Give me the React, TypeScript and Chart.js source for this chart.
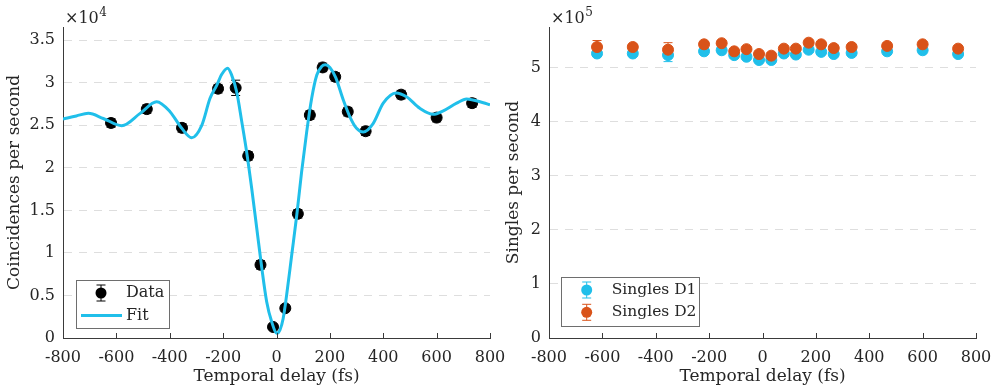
import React, { useEffect, useRef } from "react";
import { Chart, registerables } from "chart.js";
Chart.register(...registerables);

// ---- data ----
const delays = [-620, -486, -354, -219, -153, -106, -60, -13, 33, 80, 125, 173, 220, 267, 334, 467, 600, 733];
const coincidences = [25270, 26900, 24700, 29300, 29400, 21400, 8600, 1300, 3500, 14600, 26200, 31800, 30700, 26600, 24300, 28600, 25900, 27600];
const coincErr = [500, 500, 500, 500, 900, 500, 500, 300, 400, 500, 500, 500, 500, 500, 500, 500, 500, 500];

const fitDelay = [-800, -750, -705, -649, -580, -511, -449, -399, -355, -318, -280, -249, -224, -205, -183, -168, -149, -130, -112, -93, -74, -55, -37, -18, 2, 13, 25, 38, 57, 76, 94, 113, 132, 151, 169, 183, 200, 222, 250, 275, 300, 325, 362, 400, 448, 487, 537, 587, 625, 675, 712, 775, 800];
const fitCoinc = [25730, 26100, 26400, 25800, 24950, 26400, 27770, 26600, 24640, 23540, 25000, 28170, 29700, 31000, 31700, 30900, 28900, 25400, 21900, 17600, 12900, 8200, 4300, 1900, 550, 940, 2300, 5050, 9750, 14450, 19500, 24200, 28200, 30900, 31900, 32100, 31800, 30600, 28000, 26000, 24640, 24200, 25200, 27600, 28800, 28350, 27000, 26300, 26700, 27600, 28100, 27650, 27400];

const singlesD1 = [526000, 526000, 523000, 530000, 532000, 523000, 520000, 514000, 514000, 526000, 524000, 533000, 529000, 525000, 527000, 530000, 532000, 525000];
const singlesD2 = [538000, 538000, 533000, 543000, 545000, 530000, 534000, 525000, 522000, 535000, 535000, 546000, 543000, 536000, 538000, 540000, 543000, 535000];
const errD1 = [5000, 5000, 12000, 5000, 5000, 5000, 5000, 5000, 5000, 5000, 5000, 5000, 5000, 5000, 5000, 5000, 5000, 5000];
const errD2 = [12000, 5000, 13000, 5000, 5000, 5000, 5000, 5000, 5000, 5000, 5000, 5000, 5000, 5000, 5000, 5000, 5000, 5000];

const xTicks = [-800, -600, -400, -200, 0, 200, 400, 600, 800];
const leftYTicks = [0, 5000, 10000, 15000, 20000, 25000, 30000, 35000];
const rightYTicks = [0, 100000, 200000, 300000, 400000, 500000];

// ---- styles ----
const FONT = "'DejaVu Serif', serif";
const CYAN = "#20bfea";
const ORANGE = "#d95319";
const AXIS = "#3a3a3a";
const TEXT = "#262626";
const GRID = "#dedede";

function fmt(v: number) {
  return String(+v.toFixed(2));
}

function xScale() {
  return {
    type: "linear",
    min: -800,
    max: 800,
    afterBuildTicks: (s: any) => {
      s.ticks = xTicks.map((v) => ({ value: v }));
    },
    afterFit: (s: any) => {
      s.height = 50;
      s.paddingLeft = 0;
      s.paddingRight = 0;
    },
    grid: { display: false, drawTicks: false },
    border: { display: true, color: AXIS, width: 1 },
    ticks: {
      font: { family: FONT, size: 16 },
      color: TEXT,
      padding: 10,
      maxRotation: 0,
      autoSkip: false,
      callback: (v: any) => String(v),
    },
  };
}

function yScale(max: number, ticks: number[], div: number, width: number) {
  return {
    type: "linear",
    min: 0,
    max,
    afterBuildTicks: (s: any) => {
      s.ticks = ticks.map((v) => ({ value: v }));
    },
    afterFit: (s: any) => {
      s.width = width;
      s.paddingTop = 0;
      s.paddingBottom = 0;
    },
    grid: {
      drawTicks: false,
      color: (ctx: any) => (ctx.tick && ctx.tick.value === 0 ? "rgba(0,0,0,0)" : GRID),
      lineWidth: 1,
    },
    border: { display: true, color: AXIS, width: 1, dash: [8, 7] },
    ticks: {
      font: { family: FONT, size: 16 },
      color: TEXT,
      padding: 8,
      autoSkip: false,
      callback: (v: any) => fmt(v / div),
    },
  };
}

const errorBarPlugin = {
  id: "errbars",
  beforeDatasetsDraw(chart: any) {
    const ctx = chart.ctx;
    const ys = chart.scales.y;
    chart.data.datasets.forEach((ds: any, i: number) => {
      if (!ds.errors) return;
      const meta = chart.getDatasetMeta(i);
      ctx.save();
      ctx.strokeStyle = ds.borderColor;
      ctx.lineWidth = 1;
      meta.data.forEach((pt: any, j: number) => {
        const v = ds.data[j].y;
        const e = ds.errors[j];
        const t = ys.getPixelForValue(v + e);
        const b = ys.getPixelForValue(v - e);
        const x = pt.x;
        ctx.beginPath();
        ctx.moveTo(x, t);
        ctx.lineTo(x, b);
        ctx.moveTo(x - 4.5, t);
        ctx.lineTo(x + 4.5, t);
        ctx.moveTo(x - 4.5, b);
        ctx.lineTo(x + 4.5, b);
        ctx.stroke();
      });
      ctx.restore();
    });
  },
};

function decorPlugin(opts: {
  yTitle: string;
  yTitleX: number;
  exp: string;
  expX: number;
  legend: { label: string; color: string; kind: "marker" | "line" }[];
  legendBox: [number, number, number, number];
  legendItemX: number;
  legendTextX: number;
  legendYs: number[];
  legendFont: number;
}) {
  return {
    id: "decor",
    afterDraw(chart: any) {
      const ctx = chart.ctx;
      const a = chart.chartArea;
      const xs = chart.scales.x;
      ctx.save();
      // inward x tick marks
      ctx.strokeStyle = AXIS;
      ctx.lineWidth = 1;
      xTicks.forEach((v) => {
        const px = Math.round(xs.getPixelForValue(v)) + 0.5;
        ctx.beginPath();
        ctx.moveTo(px, a.bottom);
        ctx.lineTo(px, a.bottom - 5);
        ctx.stroke();
      });
      // axis titles
      ctx.fillStyle = TEXT;
      ctx.font = `17px ${FONT}`;
      ctx.textAlign = "center";
      ctx.textBaseline = "middle";
      ctx.fillText("Temporal delay (fs)", (a.left + a.right) / 2, 377);
      ctx.save();
      ctx.translate(opts.yTitleX, (a.top + a.bottom) / 2);
      ctx.rotate(-Math.PI / 2);
      ctx.fillText(opts.yTitle, 0, 0);
      ctx.restore();
      // exponent label
      ctx.textAlign = "left";
      ctx.textBaseline = "alphabetic";
      ctx.font = `16px ${FONT}`;
      ctx.fillText("\u00d710", opts.expX, 23);
      const w = ctx.measureText("\u00d710").width;
      ctx.font = `12px ${FONT}`;
      ctx.fillText(opts.exp, opts.expX + w + 0.5, 16);
      // legend
      const [bx, by, bw, bh] = opts.legendBox;
      ctx.fillStyle = "#ffffff";
      ctx.fillRect(bx, by, bw, bh);
      ctx.strokeStyle = "#6e6e6e";
      ctx.lineWidth = 1;
      ctx.strokeRect(bx + 0.5, by + 0.5, bw, bh);
      opts.legend.forEach((item, i) => {
        const y = opts.legendYs[i];
        const cx = opts.legendItemX;
        ctx.strokeStyle = item.color;
        ctx.fillStyle = item.color;
        if (item.kind === "line") {
          ctx.lineWidth = 3;
          ctx.beginPath();
          ctx.moveTo(cx - 20, y);
          ctx.lineTo(cx + 21, y);
          ctx.stroke();
        } else {
          ctx.lineWidth = 1;
          ctx.beginPath();
          ctx.moveTo(cx, y - 8);
          ctx.lineTo(cx, y + 8);
          ctx.moveTo(cx - 4.5, y - 8);
          ctx.lineTo(cx + 4.5, y - 8);
          ctx.moveTo(cx - 4.5, y + 8);
          ctx.lineTo(cx + 4.5, y + 8);
          ctx.stroke();
          ctx.beginPath();
          ctx.arc(cx, y, 5.5, 0, Math.PI * 2);
          ctx.fill();
        }
        ctx.fillStyle = TEXT;
        ctx.font = `${opts.legendFont}px ${FONT}`;
        ctx.textAlign = "left";
        ctx.textBaseline = "middle";
        ctx.fillText(item.label, opts.legendTextX, y);
      });
      ctx.restore();
    },
  };
}

function leftConfig(): any {
  return {
    type: "scatter",
    data: {
      datasets: [
        {
          label: "Fit",
          data: fitDelay.map((x, i) => ({ x, y: fitCoinc[i] })),
          showLine: true,
          borderColor: CYAN,
          borderWidth: 3,
          pointRadius: 0,
          cubicInterpolationMode: "monotone",
          order: 0,
        },
        {
          label: "Data",
          data: delays.map((x, i) => ({ x, y: coincidences[i] })),
          backgroundColor: "#000000",
          borderColor: "#000000",
          pointRadius: 5.5,
          borderWidth: 1,
          errors: coincErr,
          order: 1,
        },
      ],
    },
    options: {
      responsive: false,
      animation: false,
      devicePixelRatio: 1,
      layout: { padding: { left: 0, right: 30, top: 27, bottom: 0 } },
      plugins: { legend: { display: false }, tooltip: { enabled: false } },
      scales: { x: xScale(), y: yScale(36550, leftYTicks, 1e4, 63) },
    },
    plugins: [
      errorBarPlugin,
      decorPlugin({
        yTitle: "Coincidences per second",
        yTitleX: 15,
        exp: "4",
        expX: 65,
        legend: [
          { label: "Data", color: "#000000", kind: "marker" },
          { label: "Fit", color: CYAN, kind: "line" },
        ],
        legendBox: [76, 280, 93, 48],
        legendItemX: 101,
        legendTextX: 126,
        legendYs: [293, 315.5],
        legendFont: 16,
      }),
    ],
  };
}

function rightConfig(): any {
  return {
    type: "scatter",
    data: {
      datasets: [
        {
          label: "Singles D2",
          data: delays.map((x, i) => ({ x, y: singlesD2[i] })),
          backgroundColor: ORANGE,
          borderColor: ORANGE,
          pointRadius: 5.5,
          borderWidth: 1,
          errors: errD2,
          order: 0,
        },
        {
          label: "Singles D1",
          data: delays.map((x, i) => ({ x, y: singlesD1[i] })),
          backgroundColor: CYAN,
          borderColor: CYAN,
          pointRadius: 5.5,
          borderWidth: 1,
          errors: errD1,
          order: 1,
        },
      ],
    },
    options: {
      responsive: false,
      animation: false,
      devicePixelRatio: 1,
      layout: { padding: { left: 0, right: 20, top: 27, bottom: 0 } },
      plugins: { legend: { display: false }, tooltip: { enabled: false } },
      scales: { x: xScale(), y: yScale(575000, rightYTicks, 1e5, 51) },
    },
    plugins: [
      errorBarPlugin,
      decorPlugin({
        yTitle: "Singles per second",
        yTitleX: 16,
        exp: "5",
        expX: 53,
        legend: [
          { label: "Singles D1", color: CYAN, kind: "marker" },
          { label: "Singles D2", color: ORANGE, kind: "marker" },
        ],
        legendBox: [63, 277, 138, 49],
        legendItemX: 88.7,
        legendTextX: 113.7,
        legendYs: [290, 312.3],
        legendFont: 15.5,
      }),
    ],
  };
}

export default function App() {
  const leftRef = useRef<HTMLCanvasElement>(null);
  const rightRef = useRef<HTMLCanvasElement>(null);
  useEffect(() => {
    const c1 = new Chart(leftRef.current as HTMLCanvasElement, leftConfig());
    const c2 = new Chart(rightRef.current as HTMLCanvasElement, rightConfig());
    return () => {
      c1.destroy();
      c2.destroy();
    };
  }, []);
  return (
    <div style={{ position: "absolute", left: 0, top: 0, width: 996, height: 388, background: "#ffffff" }}>
      <canvas ref={leftRef} width={520} height={388} style={{ position: "absolute", left: 0, top: 0, width: 520, height: 388 }} />
      <canvas ref={rightRef} width={498} height={388} style={{ position: "absolute", left: 498, top: 0, width: 498, height: 388 }} />
    </div>
  );
}
